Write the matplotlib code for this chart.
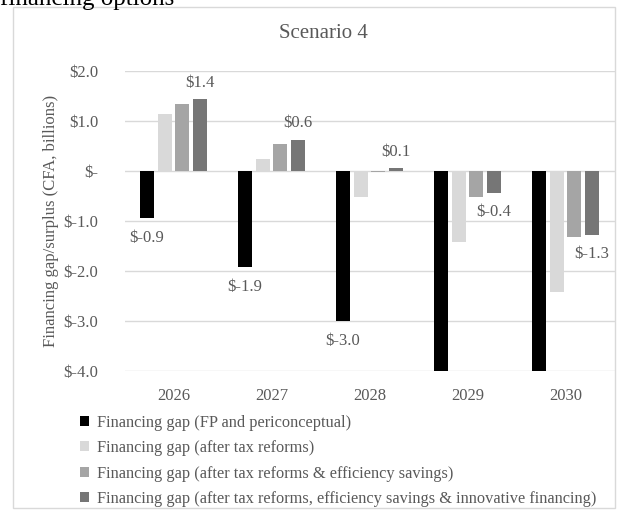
import matplotlib.pyplot as plt
import numpy as np
from matplotlib.patches import Patch, Rectangle

years = ['2026', '2027', '2028', '2029', '2030']
series_names = [
    'Financing gap (FP and periconceptual)',
    'Financing gap (after tax reforms)',
    'Financing gap (after tax reforms & efficiency savings)',
    'Financing gap (after tax reforms, efficiency savings & innovative financing)',
]
gap_fp = [-0.93, -1.92, -3.0, -4.4, -5.2]
gap_tax = [1.15, 0.25, -0.52, -1.41, -2.42]
gap_eff = [1.35, 0.55, -0.02, -0.51, -1.32]
gap_innov = [1.44, 0.63, 0.06, -0.44, -1.27]

colors = ['#000000', '#d9d9d9', '#a5a5a5', '#767676']
text_gray = '#595959'

plt.rcParams['font.family'] = ['Liberation Serif', 'DejaVu Serif']

W, H = 621, 513
fig = plt.figure(figsize=(W / 100, H / 100), dpi=100)

# chart frame
fig.patches.append(Rectangle((13 / W, 1 - 508 / H), (615 - 13) / W, (508 - 7) / H,
                             transform=fig.transFigure, fill=False,
                             edgecolor='#d9d9d9', linewidth=1))

# line of document text above the chart
fig.text(0.0, 1 - 5.5 / H, 'financing options', fontsize=18, color='black',
         ha='left', va='baseline')

ax = fig.add_axes([124.5 / W, 1 - 371 / H, 490 / W, 300 / H])

x = np.arange(len(years))
step = 0.18
width = 0.143
all_series = [gap_fp, gap_tax, gap_eff, gap_innov]
for i, (vals, c, name) in enumerate(zip(all_series, colors, series_names)):
    ax.bar(x + (i - 1.5) * step, vals, width, color=c, label=name, zorder=2)

ax.set_ylim(-4, 2)
ax.set_xlim(-0.5, len(years) - 0.5)
ax.set_yticks(np.arange(-4, 2.1, 1))


def money(v):
    if abs(v) < 1e-9:
        return '$-'
    return f'${v:.1f}'


ax.set_yticklabels([money(v) for v in np.arange(-4, 2.1, 1)])
ax.set_xticks(x)
ax.set_xticklabels(years)
ax.tick_params(axis='both', length=0, labelsize=12, colors=text_gray)
ax.tick_params(axis='y', pad=19)
ax.tick_params(axis='x', pad=12)
ax.grid(axis='y', color='#d9d9d9', linewidth=1, zorder=0)
for s in ax.spines.values():
    s.set_visible(False)

ax.set_ylabel('Financing gap/surplus (CFA, billions)', fontsize=12, color=text_gray,
              labelpad=3)
fig.text(323 / W, 1 - 33 / H, 'Scenario 4', fontsize=15, color=text_gray,
         ha='center', va='center')

# value labels: black series (only those inside the axis) and last series
for xi, v in zip(x, gap_fp):
    if v >= -4:
        ax.annotate(f'${v:.1f}', (xi - 1.5 * step, v), xytext=(0, -9),
                    textcoords='offset points', ha='center', va='top',
                    fontsize=12, color=text_gray)
for xi, v in zip(x, gap_innov):
    ax.annotate(f'${v:.1f}', (xi + 1.5 * step, v),
                xytext=(0, 6 if v > 0 else -8), textcoords='offset points',
                ha='center', va='bottom' if v > 0 else 'top',
                fontsize=12, color=text_gray)

handles = [Patch(facecolor=c) for c in colors]
leg = fig.legend(handles, series_names, loc='upper left',
                 bbox_to_anchor=(73 / W, 1 - 408 / H), frameon=False,
                 fontsize=11.8, handlelength=0.55, handleheight=0.55,
                 handletextpad=0.5, labelspacing=0.58, borderaxespad=0)
for t in leg.get_texts():
    t.set_color(text_gray)

fig.savefig('out.png', dpi=100)
